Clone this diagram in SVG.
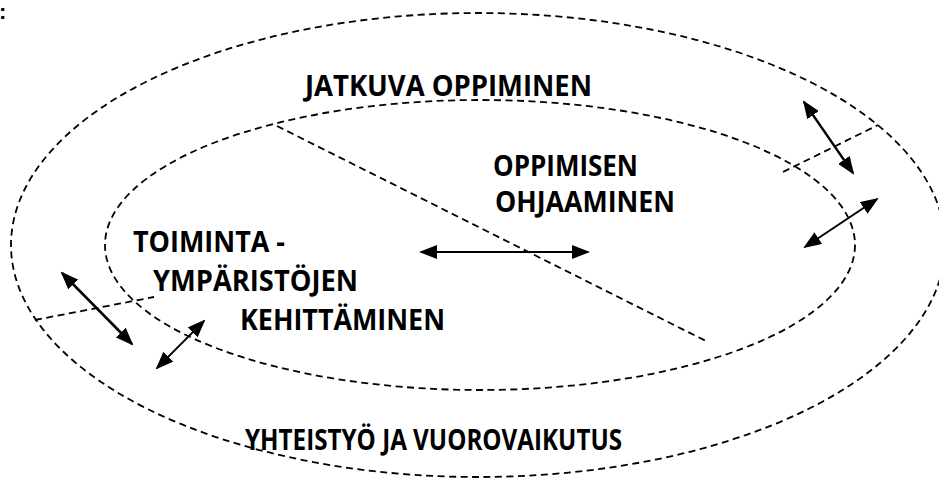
<svg xmlns="http://www.w3.org/2000/svg" width="939" height="482" viewBox="0 0 939 482">
<style>
.ring{fill:none;stroke:#000;stroke-width:1.8;stroke-dasharray:7 4.5}
.div{fill:none;stroke:#000;stroke-width:1.8;stroke-dasharray:7 4.5}
.arr{stroke:#000;fill:none;marker-start:url(#ah);marker-end:url(#ah)}
.lbl{font-family:"Open Sans",Lato,"Liberation Sans",sans-serif;font-weight:bold;font-size:29px;fill:#000}
</style>
<defs>
<marker id="ah" viewBox="0 0 18 14" refX="16" refY="7" markerWidth="18" markerHeight="14" markerUnits="userSpaceOnUse" orient="auto-start-reverse">
<path d="M0,0 L18,7 L0,14 z" fill="#000"/>
</marker>
</defs>
<rect width="939" height="482" fill="#fff"/>
<text x="-1" y="19" font-family="Liberation Sans,sans-serif" font-size="22" font-weight="bold">:</text>
<g id="outer-ring">
<ellipse class="ring" cx="478" cy="245" rx="467" ry="232"/>
<text class="lbl" x="245" y="450" textLength="377" lengthAdjust="spacingAndGlyphs">YHTEISTYÖ JA VUOROVAIKUTUS</text>
</g>
<g id="jatkuva-oppiminen">
<text class="lbl" x="305" y="96" textLength="287" lengthAdjust="spacingAndGlyphs">JATKUVA OPPIMINEN</text>
</g>
<g id="inner-ring">
<ellipse class="ring" cx="480" cy="245" rx="375" ry="145"/>
</g>
<g id="oppimisen-ohjaaminen">
<text class="lbl" x="493" y="176" textLength="145" lengthAdjust="spacingAndGlyphs">OPPIMISEN</text>
<text class="lbl" x="495" y="212" textLength="180" lengthAdjust="spacingAndGlyphs">OHJAAMINEN</text>
</g>
<g id="toimintaymparistojen-kehittaminen">
<text class="lbl" x="133" y="252" textLength="152" lengthAdjust="spacingAndGlyphs">TOIMINTA -</text>
<text class="lbl" x="153" y="291" textLength="205" lengthAdjust="spacingAndGlyphs">YMPÄRISTÖJEN</text>
<text class="lbl" x="240" y="330" textLength="205" lengthAdjust="spacingAndGlyphs">KEHITTÄMINEN</text>
</g>
<g id="connectors">
<path class="div" d="M277,126 L708,342"/>
<path class="div" d="M783,172 L878,125"/>
<path class="div" d="M35,320 L154,297"/>
<line class="arr" style="stroke-width:2.5" x1="62" y1="273" x2="132" y2="344"/>
<line class="arr" style="stroke-width:1.8" x1="157" y1="368" x2="204" y2="321"/>
<line class="arr" style="stroke-width:2" x1="421" y1="252" x2="588" y2="252"/>
<line class="arr" style="stroke-width:2.3" x1="804" y1="102" x2="853" y2="173"/>
<line class="arr" style="stroke-width:2" x1="805" y1="247" x2="877" y2="199"/>
</g>
</svg>
